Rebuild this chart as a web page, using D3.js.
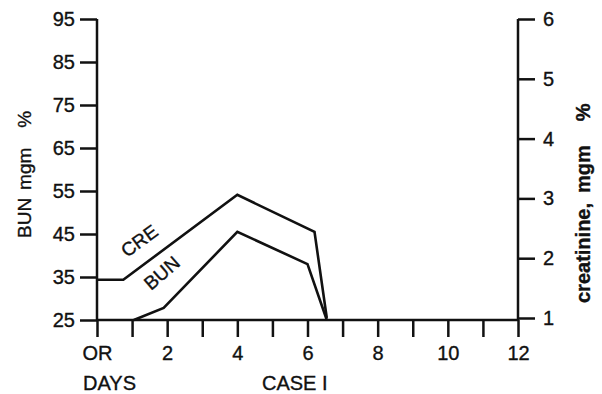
<!DOCTYPE html>
<html><head><meta charset="utf-8">
<script src="https://cdn.jsdelivr.net/npm/d3@7"></script>
<style>
html,body{margin:0;padding:0;background:#fff;}
text{font-family:"Liberation Sans",Arial,sans-serif;fill:#111;stroke:#111;stroke-width:0.35px;}
</style></head>
<body><svg id="c" width="602" height="394"></svg>
<script>
// Data
const days      = [0, 0.75, 4.0, 6.2, 6.55];
const creValues = [1.64, 1.64, 3.06, 2.44, 1.0];   // creatinine, mgm %
const bunDays   = [1.05, 1.9, 4.0, 6.0, 6.55];
const bunValues = [25, 27.8, 45.5, 38.0, 25];        // BUN mgm %
const leftTicks  = [25, 35, 45, 55, 65, 75, 85, 95];
const rightTicks = [1, 2, 3, 4, 5, 6];
const xTicks     = [0,1,2,3,4,5,6,7,8,9,10,11,12];
const xTickLabels = {0:"OR", 2:"2", 4:"4", 6:"6", 8:"8", 10:"10", 12:"12"};

const svg = d3.select("#c");
const x  = d3.scaleLinear().domain([0,12]).range([97,518]);
const yL = d3.scaleLinear().domain([25,95]).range([320,19]);
const yR = d3.scaleLinear().domain([1,6]).range([318,19]);
const ink = "#111";
const FF = "'Liberation Sans',Arial,sans-serif";

// Left axis
const gL = svg.append("g").attr("transform",`translate(${x(0)},0)`)
  .call(d3.axisLeft(yL).tickValues(leftTicks).tickSize(17).tickPadding(5).tickFormat(d3.format("d")));
// Right axis
const gR = svg.append("g").attr("transform",`translate(${x(12)},0)`)
  .call(d3.axisRight(yR).tickValues(rightTicks).tickSize(17).tickPadding(8).tickFormat(d3.format("d")));
// Bottom axis
const gB = svg.append("g").attr("transform",`translate(0,${yL(25)})`)
  .call(d3.axisBottom(x).tickValues(xTicks).tickSize(17).tickPadding(7)
    .tickFormat(d => xTickLabels[d] || ""));

[gL,gR,gB].forEach(g=>{
  g.attr("font-size",20).attr("font-family",FF);
  g.select(".domain").attr("stroke",ink).attr("stroke-width",2.5);
  g.selectAll(".tick line").attr("stroke",ink).attr("stroke-width",2.5);
  g.selectAll(".tick text").attr("fill",ink);
});
gL.select(".domain").attr("d",`M0,${yL(95)}V${yL(25)}`);
gR.select(".domain").attr("d",`M0,${yR(6)}V${yL(25)}`);
gB.select(".domain").attr("d",`M${x(0)},0H${x(12)}`);
gB.selectAll(".tick text").attr("dy","0.8em");

// Lines
const line = d3.line();
svg.append("path")
  .attr("d", line(days.map((d,i)=>[x(d), yR(creValues[i])])))
  .attr("fill","none").attr("stroke",ink).attr("stroke-width",2.6).attr("stroke-linejoin","miter");
svg.append("path")
  .attr("d", line(bunDays.map((d,i)=>[x(d), yL(bunValues[i])])))
  .attr("fill","none").attr("stroke",ink).attr("stroke-width",2.6).attr("stroke-linejoin","miter");

// Line labels
svg.append("text").text("CRE").attr("font-size",19)
  .attr("transform","translate(127,258) rotate(-36)");
svg.append("text").text("BUN").attr("font-size",19)
  .attr("transform","translate(151,291) rotate(-41)");

// Axis titles
const tl = svg.append("text").attr("font-size",19)
  .attr("transform","translate(31,238) rotate(-90)");
tl.append("tspan").text("BUN");
tl.append("tspan").attr("dx",8).text("mgm");
tl.append("tspan").attr("dx",20).text("%");

const tr = svg.append("text").attr("font-size",20).attr("font-weight","bold")
  .attr("transform","translate(590,303) rotate(-90)");
tr.append("tspan").text("creatinine,");
tr.append("tspan").attr("dx",10).text("mgm");
tr.append("tspan").attr("dx",24).text("%");

svg.append("text").text("DAYS").attr("font-size",20).attr("x",83).attr("y",390);
svg.append("text").text("CASE I").attr("font-size",20).attr("x",262).attr("y",390);
</script></body></html>
